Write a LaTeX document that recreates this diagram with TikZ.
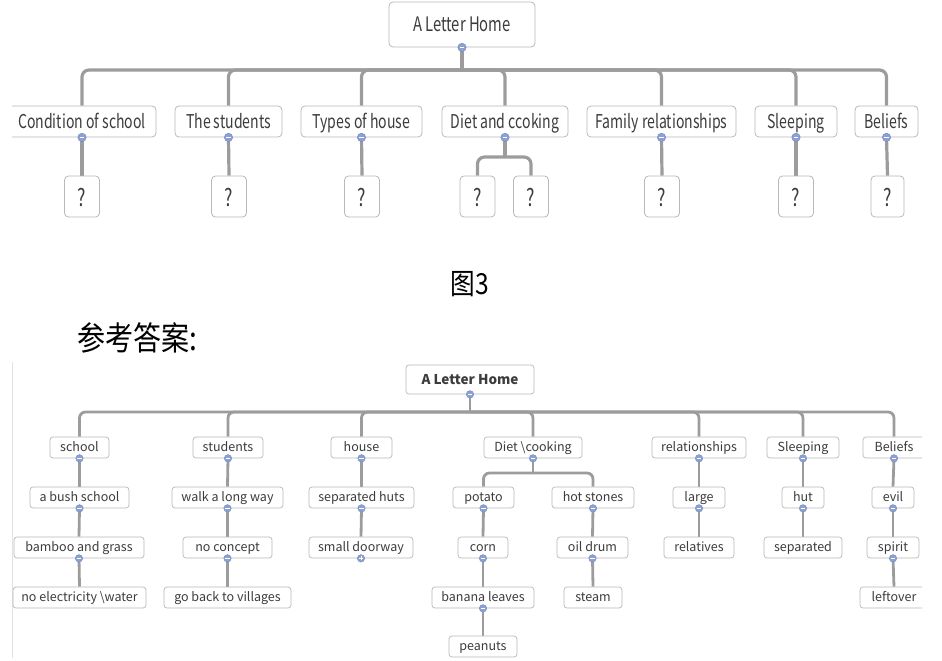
\documentclass[tikz,border=0pt]{standalone}
\usepackage{fontspec}
\usetikzlibrary{backgrounds}
\setmainfont{Noto Sans CJK SC}
\newfontfamily\topfont[FakeStretch=0.74]{Noto Sans CJK SC}
\newfontfamily\botfont{Noto Sans CJK SC}
\newfontfamily\cjkfont[FakeStretch=0.85]{Noto Sans CJK SC}
\definecolor{boxline}{HTML}{B8B8B8}
\definecolor{conn}{HTML}{9C9C9C}
\definecolor{dotfill}{HTML}{8CA0D2}
\definecolor{dotline}{HTML}{7489BE}
\definecolor{txt}{HTML}{3C3C3C}
\definecolor{edge}{HTML}{E2E2E2}
\tikzset{
  tbox/.style={draw=boxline, line width=0.8pt, rounded corners=4pt, fill=white, text=txt,
    inner sep=0pt, minimum height=31pt, text height=17.5pt, text depth=3.9pt,
    font=\topfont\fontsize{19}{19}\selectfont},
  troot/.style={tbox, minimum height=45pt, text height=18pt, text depth=3.6pt, font=\topfont\fontsize{20}{20}\selectfont},
  qbox/.style={tbox, minimum height=41pt, minimum width=35pt, text height=22pt, text depth=3pt,
    font=\topfont\fontsize{24}{24}\selectfont},
  bbox/.style={draw=boxline, line width=0.7pt, rounded corners=3pt, fill=white, text=txt,
    inner sep=0pt, minimum height=21pt, text height=11pt, text depth=2.6pt,
    font=\botfont\fontsize{12.5}{12.5}\selectfont},
  broot/.style={bbox, minimum height=29pt, text height=12pt, text depth=3pt,
    font=\botfont\bfseries\fontsize{13.5}{13.5}\selectfont},
  tconn/.style={draw=conn, line width=3.2pt, rounded corners=7pt},
  bconn/.style={draw=conn, line width=2.8pt, rounded corners=6pt},
  tdot/.style={circle, fill=dotfill, draw=dotline, line width=0.4pt, inner sep=0pt, minimum size=8.5pt,
    path picture={\draw[white, line width=1.1pt] ([xshift=-2.2pt]path picture bounding box.center) -- ([xshift=2.2pt]path picture bounding box.center);}},
  bdot/.style={tdot, minimum size=7.5pt},
  pdot/.style={circle, fill=dotfill, draw=dotline, line width=0.4pt, inner sep=0pt, minimum size=7.5pt,
    path picture={\draw[white, line width=1pt] ([xshift=-2pt]path picture bounding box.center) -- ([xshift=2pt]path picture bounding box.center)
      ([yshift=-2pt]path picture bounding box.center) -- ([yshift=2pt]path picture bounding box.center);}},
  captxt/.style={text=black, inner sep=0pt},
}
\begin{document}
\begin{tikzpicture}[x=1pt,y=-1pt]
\useasboundingbox (0,0) rectangle (942,661);

% ---------------- top diagram ----------------
\begin{scope}
\clip (12,0) rectangle (942,230);
\node[troot, minimum width=146pt] (r) at (462,24.5) {A Letter Home};
\coordinate (tbar) at (462,70);
\node[tbox, minimum width=148pt] (t1) at (82,121.5) {Condition of school};
\node[tbox, minimum width=107pt] (t2) at (228.5,121.5) {The students};
\node[tbox, minimum width=121pt] (t3) at (361.5,121.5) {Types of house};
\node[tbox, minimum width=126pt] (t4) at (505,121.5) {Diet and ccoking};
\node[tbox, minimum width=149pt] (t5) at (661.5,121.5) {Family relationships};
\node[tbox, minimum width=82pt] (t6) at (796,121.5) {Sleeping};
\node[tbox, minimum width=63pt] (t7) at (886.5,121.5) {Beliefs};
\node[qbox] (q1) at (82,196.5) {?};
\node[qbox] (q2) at (229,196.5) {?};
\node[qbox] (q3) at (362,196.5) {?};
\node[qbox] (q4a) at (477.5,196.5) {?};
\node[qbox] (q4b) at (531,196.5) {?};
\node[qbox] (q5) at (662,196.5) {?};
\node[qbox] (q6) at (796,196.5) {?};
\node[qbox, minimum width=33pt] (q7) at (887.5,196.5) {?};
\coordinate (tsplit) at (505,157);
\begin{scope}[on background layer]
  \draw[tconn] (r.south) -- (tbar);
  \foreach \c in {t1,t2,t3,t4,t5,t6,t7} \draw[tconn] (tbar) -| (\c.north);
  \draw[tconn] (t1.south) -- (q1.north);
  \draw[tconn] (t2.south) -- (q2.north);
  \draw[tconn] (t3.south) -- (q3.north);
  \draw[tconn] (t4.south) -- (tsplit);
  \draw[tconn] (tsplit) -| (q4a.north);
  \draw[tconn] (tsplit) -| (q4b.north);
  \draw[tconn] (t5.south) -- (q5.north);
  \draw[tconn] (t6.south) -- (q6.north);
  \draw[tconn] (t7.south) -- (q7.north);
\end{scope}
\foreach \c in {r,t1,t2,t3,t4,t5,t6,t7} \node[tdot] (dot-\c) at (\c.south) {};
\end{scope}

% ---------------- captions ----------------
\node[captxt, font=\cjkfont\fontsize{29}{29}\selectfont] (fig) at (470,284) {图3};
\node[captxt, anchor=west, font=\cjkfont\fontsize{33}{33}\selectfont] (ans) at (77,338) {参考答案:};

% ---------------- answer diagram ----------------
\draw[edge, line width=0.8pt] (12,362) -- (12,658);
\begin{scope}
\clip (12,362) rectangle (922,658);
\node[broot, minimum width=128pt] (R) at (470,379.5) {A Letter Home};
\coordinate (bbar) at (470,412);
\node[bbox, minimum width=59pt] (b1) at (79.5,447.5) {school};
\node[bbox, minimum width=70pt] (b2) at (228,447.5) {students};
\node[bbox, minimum width=61pt] (b3) at (361.5,447.5) {house};
\node[bbox, minimum width=98pt] (b4) at (533,447.5) {Diet \textbackslash cooking};
\node[bbox, minimum width=94pt] (b5) at (699,447.5) {relationships};
\node[bbox, minimum width=72pt] (b6) at (803,447.5) {Sleeping};
\node[bbox, minimum width=62pt] (b7) at (894,447.5) {Beliefs};
% level 2
\node[bbox, minimum width=99pt] (c1) at (79.5,497.5) {a bush school};
\node[bbox, minimum width=111pt] (c2) at (227.5,497.5) {walk a long way};
\node[bbox, minimum width=105pt] (c3) at (361.5,497.5) {separated huts};
\node[bbox, minimum width=61pt] (c4a) at (483.5,497.5) {potato};
\node[bbox, minimum width=82pt] (c4b) at (593,497.5) {hot stones};
\node[bbox, minimum width=52pt] (c5) at (699,497.5) {large};
\node[bbox, minimum width=42pt] (c6) at (803,497.5) {hut};
\node[bbox, minimum width=42pt] (c7) at (893,497.5) {evil};
% level 3
\node[bbox, minimum width=130pt] (d1) at (79,547.5) {bamboo and grass};
\node[bbox, minimum width=89pt] (d2) at (227.5,547.5) {no concept};
\node[bbox, minimum width=104pt] (d3) at (361,547.5) {small doorway};
\node[bbox, minimum width=50pt] (d4a) at (483,547.5) {corn};
\node[bbox, minimum width=71pt] (d4b) at (592.5,547.5) {oil drum};
\node[bbox, minimum width=70pt] (d5) at (699,547.5) {relatives};
\node[bbox, minimum width=78pt] (d6) at (803,547.5) {separated};
\node[bbox, minimum width=52pt] (d7) at (893,547.5) {spirit};
% level 4
\node[bbox, minimum width=133pt] (e1) at (79.5,597.5) {no electricity \textbackslash water};
\node[bbox, minimum width=127pt] (e2) at (227.5,597.5) {go back to villages};
\node[bbox, minimum width=102pt] (e4a) at (483,597.5) {banana leaves};
\node[bbox, minimum width=58pt] (e4b) at (593,597.5) {steam};
\node[bbox, minimum width=68pt] (e7) at (894,597.5) {leftover};
% level 5
\node[bbox, minimum width=68pt] (f4a) at (483,646.5) {peanuts};
\coordinate (bsplit) at (533,473);
\begin{scope}[on background layer]
  \draw[bconn] (R.south) -- (bbar);
  \foreach \c in {b1,b2,b3,b4,b5,b6,b7} \draw[bconn] (bbar) -| (\c.north);
  \draw[bconn] (b4.south) -- (bsplit);
  \draw[bconn] (bsplit) -| (c4a.north);
  \draw[bconn] (bsplit) -| (c4b.north);
  \foreach \p/\q in {b1/c1,c1/d1,d1/e1,b2/c2,c2/d2,d2/e2,b3/c3,c3/d3,c4a/d4a,d4a/e4a,e4a/f4a,c4b/d4b,d4b/e4b,b5/c5,c5/d5,b6/c6,c6/d6,b7/c7,c7/d7,d7/e7}
    \draw[bconn] (\p.south) -- (\q.north);
\end{scope}
\foreach \c in {R,b1,b2,b3,b4,b5,b6,b7,c1,c2,c3,c4a,c4b,c5,c6,c7,d1,d2,d4a,d4b,d7,e4a}
  \node[bdot] (dot-\c) at (\c.south) {};
\node[pdot] (dot-d3) at (d3.south) {};
\end{scope}
\end{tikzpicture}
\end{document}
